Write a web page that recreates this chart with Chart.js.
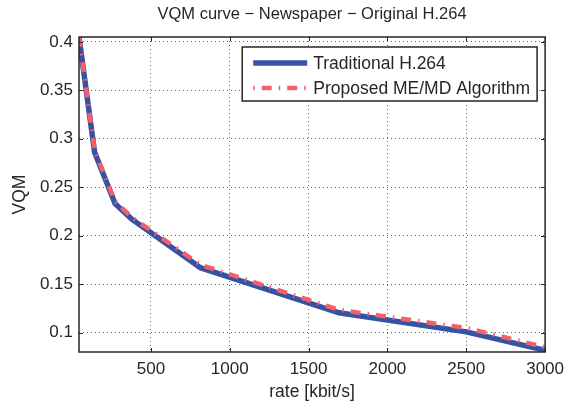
<!DOCTYPE html>
<html>
<head>
<meta charset="utf-8">
<script src="https://cdn.jsdelivr.net/npm/chart.js@4/dist/chart.umd.min.js"></script>
<style>
html,body{margin:0;padding:0;background:#fff;}
#wrap{width:571px;height:405px;}
</style>
</head>
<body>
<div id="wrap"><canvas id="c" width="571" height="405"></canvas></div>
<script>
// ---- data ----
const rateKbps   = [44, 143, 273, 379, 814, 1693, 2500, 3000];
const traditional = [0.405, 0.286, 0.233, 0.217, 0.167, 0.1205, 0.1008, 0.0818];
const proposed    = [0.405, 0.288, 0.235, 0.219, 0.170, 0.1235, 0.1048, 0.0850];
const xTicks = [500, 1000, 1500, 2000, 2500, 3000];
const yTicks = [0.1, 0.15, 0.2, 0.25, 0.3, 0.35, 0.4];
const seriesLabels = ['Traditional H.264', 'Proposed ME/MD Algorithm'];
const titleText = 'VQM curve \u2212 Newspaper \u2212 Original H.264';
const xTitle = 'rate [kbit/s]';
const yTitle = 'VQM';

const FONT = '"Liberation Sans", Arial, Helvetica, sans-serif';
Chart.defaults.font.family = FONT;
Chart.defaults.color = '#262626';

const toPts = (ys) => ys.map((v, i) => ({x: rateKbps[i], y: v}));

const legendPlugin = {
  id: 'insideLegend',
  afterDraw(chart) {
    const ctx = chart.ctx;
    const ca = chart.chartArea;
    const ds = chart.data.datasets;
    ctx.save();
    ctx.font = '17.5px ' + FONT;
    let maxW = 0;
    ds.forEach(d => { maxW = Math.max(maxW, ctx.measureText(d.label).width); });
    const sampleL = 11, sampleW = 54, gap = 6, padR = 7;
    const w = sampleL + sampleW + gap + maxW + padR;
    const right = ca.right - 8;
    const left = right - w;
    const top = ca.top + 10;
    const h = 54;
    ctx.fillStyle = '#fff';
    ctx.fillRect(left, top, w, h);
    ctx.strokeStyle = '#262626';
    ctx.lineWidth = 1.5;
    ctx.strokeRect(left, top, w, h);
    ds.forEach((d, i) => {
      const cy = top + 16 + i * 25;
      ctx.beginPath();
      ctx.setLineDash(d.borderDash || []);
      ctx.lineDashOffset = d.borderDash ? 17 : 0;
      ctx.lineCap = 'butt';
      ctx.strokeStyle = d.borderColor;
      ctx.lineWidth = d.borderWidth;
      ctx.moveTo(left + sampleL, cy);
      ctx.lineTo(left + sampleL + sampleW, cy);
      ctx.stroke();
      ctx.setLineDash([]);
      ctx.fillStyle = '#262626';
      ctx.textBaseline = 'middle';
      ctx.textAlign = 'left';
      ctx.fillText(d.label, left + sampleL + sampleW + gap, cy + 1);
    });
    ctx.restore();
  }
};

const boxPlugin = {
  id: 'boxTicks',
  afterDatasetsDraw(chart) {
    const ctx = chart.ctx;
    const {left, top, right, bottom} = chart.chartArea;
    const xs = chart.scales.x, ys = chart.scales.y;
    ctx.save();
    ctx.strokeStyle = '#262626';
    ctx.lineWidth = 1;
    ctx.beginPath();
    xTicks.forEach(v => {
      const px = Math.round(xs.getPixelForValue(v)) + 0.5;
      ctx.moveTo(px, bottom); ctx.lineTo(px, bottom - 4);
      ctx.moveTo(px, top); ctx.lineTo(px, top + 4);
    });
    yTicks.forEach(v => {
      const py = Math.round(ys.getPixelForValue(v)) + 0.5;
      ctx.moveTo(left, py); ctx.lineTo(left + 4, py);
      ctx.moveTo(right, py); ctx.lineTo(right - 4, py);
    });
    ctx.stroke();
    ctx.lineWidth = 1.5;
    ctx.strokeRect(left, top, right - left, bottom - top);
    ctx.restore();
  }
};

new Chart(document.getElementById('c'), {
  type: 'line',
  data: {
    datasets: [
      {
        label: seriesLabels[0],
        data: toPts(traditional),
        borderColor: '#3552a3',
        borderWidth: 5.5,
        pointRadius: 0,
        tension: 0,
        fill: false,
        order: 2
      },
      {
        label: seriesLabels[1],
        data: toPts(proposed),
        borderColor: '#f2606a',
        borderWidth: 4.5,
        borderDash: [10, 7, 1.5, 7],
        borderCapStyle: 'butt',
        pointRadius: 0,
        tension: 0,
        fill: false,
        order: 1
      }
    ]
  },
  plugins: [boxPlugin, legendPlugin],
  options: {
    responsive: false,
    animation: false,
    events: [],
    layout: {padding: {left: 0, right: 24, top: 0, bottom: 0}},
    plugins: {
      legend: {display: false},
      tooltip: {enabled: false},
      title: {
        display: true,
        text: titleText,
        fullSize: false,
        color: '#262626',
        font: {size: 16.5, weight: 'normal', family: FONT},
        padding: {top: 5, bottom: 12.2}
      }
    },
    scales: {
      x: {
        type: 'linear',
        min: 44,
        max: 3000,
        afterBuildTicks: (s) => { s.ticks = xTicks.map(v => ({value: v})); },
        afterFit: (s) => { s.height = 53; },
        ticks: {
          font: {size: 17},
          color: '#262626',
          padding: 7,
          maxRotation: 0,
          autoSkip: false,
          callback: (v) => String(v)
        },
        grid: {color: '#666', lineWidth: 1, drawTicks: false},
        border: {display: false, dash: [1, 3]},
        title: {
          display: true,
          text: xTitle,
          color: '#262626',
          font: {size: 17.5},
          padding: {top: 0, bottom: 2}
        }
      },
      y: {
        type: 'linear',
        min: 0.08,
        max: 0.405,
        afterBuildTicks: (s) => { s.ticks = yTicks.map(v => ({value: v})); },
        afterFit: (s) => { s.width = 79; },
        ticks: {
          font: {size: 17},
          color: '#262626',
          padding: 6,
          autoSkip: false,
          callback: (v) => String(Number(v.toFixed(2)))
        },
        grid: {color: '#666', lineWidth: 1, drawTicks: false},
        border: {display: false, dash: [1, 3]},
        title: {
          display: true,
          text: yTitle,
          color: '#262626',
          font: {size: 17.5},
          padding: {top: 10, bottom: 0}
        }
      }
    }
  }
});
</script>
</body>
</html>
